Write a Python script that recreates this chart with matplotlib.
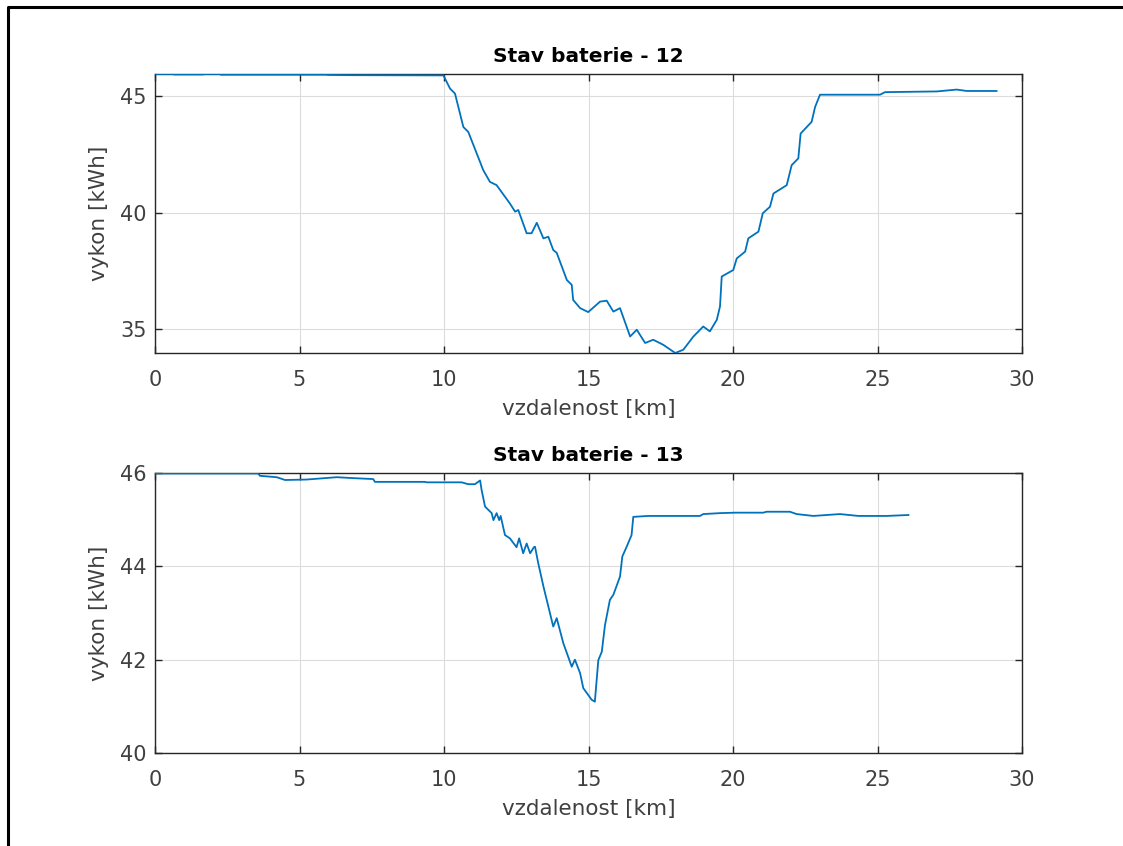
import matplotlib
matplotlib.use("Agg")
import matplotlib.pyplot as plt
from matplotlib.lines import Line2D

# ---- data ----
dist_12 = [0.0, 0.63, 0.65, 1.67, 1.70, 2.25, 2.28, 5.94, 5.97, 6.75, 9.98,
           10.21, 10.38, 10.67, 10.84, 11.36, 11.59, 11.82, 12.28, 12.46, 12.57,
           12.86, 13.03, 13.21, 13.44, 13.61, 13.78, 13.90, 14.25, 14.42, 14.47,
           14.71, 14.99, 15.40, 15.63, 15.86, 16.09, 16.44, 16.67, 16.96, 17.24,
           17.59, 18.00, 18.28, 18.63, 18.97, 19.20, 19.44, 19.55, 19.61, 20.01,
           20.13, 20.42, 20.53, 20.88, 21.03, 21.28, 21.40, 21.86, 22.03, 22.26,
           22.34, 22.72, 22.84, 23.01, 25.09, 25.26, 27.05, 27.74, 28.09, 29.12]
soc_12 = [45.96, 45.96, 45.94, 45.94, 45.96, 45.96, 45.93, 45.93, 45.92, 45.91, 45.90,
          45.33, 45.12, 43.68, 43.47, 41.82, 41.32, 41.18, 40.39, 40.04, 40.11,
          39.11, 39.11, 39.56, 38.89, 38.96, 38.39, 38.27, 37.10, 36.89, 36.24,
          35.89, 35.72, 36.17, 36.21, 35.74, 35.89, 34.67, 34.96, 34.39, 34.53,
          34.31, 33.96, 34.10, 34.67, 35.10, 34.89, 35.39, 35.96, 37.25, 37.53,
          38.03, 38.32, 38.89, 39.18, 39.97, 40.25, 40.82, 41.18, 42.04, 42.33,
          43.40, 43.90, 44.54, 45.07, 45.07, 45.18, 45.21, 45.29, 45.23, 45.23]

dist_13 = [0.0, 3.57, 3.63, 4.21, 4.50, 5.25, 6.29, 6.86, 7.55, 7.61, 9.34, 9.40,
           10.61, 10.84, 11.07, 11.25, 11.30, 11.42, 11.65, 11.71, 11.82, 11.91,
           11.96, 12.11, 12.28, 12.51, 12.60, 12.74, 12.86, 12.98, 13.11, 13.15,
           13.26, 13.44, 13.78, 13.90, 14.13, 14.42, 14.53, 14.71, 14.82, 15.11,
           15.22, 15.34, 15.46, 15.57, 15.74, 15.86, 16.09, 16.17, 16.32, 16.49,
           16.55, 17.07, 18.86, 18.97, 19.55, 20.07, 21.05, 21.16, 21.97, 22.20,
           22.78, 23.70, 24.34, 25.32, 26.07]
soc_13 = [45.99, 45.99, 45.94, 45.91, 45.85, 45.86, 45.91, 45.89, 45.87, 45.81, 45.81, 45.80,
          45.80, 45.76, 45.76, 45.84, 45.64, 45.28, 45.14, 44.99, 45.14, 44.99,
          45.08, 44.67, 44.60, 44.41, 44.60, 44.28, 44.49, 44.28, 44.41, 44.42,
          44.07, 43.57, 42.71, 42.89, 42.35, 41.85, 42.00, 41.71, 41.39, 41.14,
          41.10, 41.99, 42.17, 42.74, 43.28, 43.39, 43.78, 44.21, 44.42, 44.67,
          45.06, 45.08, 45.08, 45.12, 45.14, 45.15, 45.15, 45.17, 45.17, 45.12,
          45.08, 45.12, 45.08, 45.08, 45.10]

titles = ["Stav baterie - 12", "Stav baterie - 13"]
xlabel = "vzdalenost [km]"
ylabel = "vykon [kWh]"
xticks = [0, 5, 10, 15, 20, 25, 30]
yticks_12 = [35, 40, 45]
yticks_13 = [40, 42, 44, 46]

# ---- style ----
plt.rcParams['font.family'] = ['DejaVu Sans']
line_color = '#0072BD'
ax_color = '#262626'

fig = plt.figure(figsize=(11.23, 8.46), dpi=100)
W, H = 1123, 846
ax1 = fig.add_axes([155 / W, 1 - 353 / H, (1022 - 155) / W, (353 - 74) / H])
ax2 = fig.add_axes([155 / W, 1 - 753 / H, (1022 - 155) / W, (753 - 473) / H])

for ax, x, y, t, yt in [(ax1, dist_12, soc_12, titles[0], yticks_12),
                        (ax2, dist_13, soc_13, titles[1], yticks_13)]:
    ax.plot(x, y, color=line_color, lw=1.3, zorder=3)
    ax.set_xlim(0, 30)
    ax.set_xticks(xticks)
    ax.set_yticks(yt)
    ax.grid(True, color='#dcdcdc', lw=0.8)
    ax.set_axisbelow(True)
    for s in ax.spines.values():
        s.set_color(ax_color)
        s.set_linewidth(1.0)
    ax.tick_params(direction='in', length=5, width=1.0, color=ax_color,
                   top=True, right=True, labelsize=15, labelcolor='#404040')
    ax.tick_params(axis='x', pad=12)
    ax.tick_params(axis='y', pad=6)
    ax.set_xlabel(xlabel, fontsize=15.5, color='#404040', labelpad=7)
    ax.set_ylabel(ylabel, fontsize=15.5, color='#404040', labelpad=8)
    ax.set_title(t, fontsize=14.5, fontweight='bold', color='black', pad=9)

ax1.set_ylim(min(soc_12), max(soc_12))
ax2.set_ylim(40, 46)

# figure frame (top and left visible)
fig.add_artist(Line2D([8 / W, 8 / W, 1.0], [0.0, 1 - 7.5 / H, 1 - 7.5 / H],
                      transform=fig.transFigure, color='black', lw=2.2))

fig.savefig("out.png", dpi=100)
